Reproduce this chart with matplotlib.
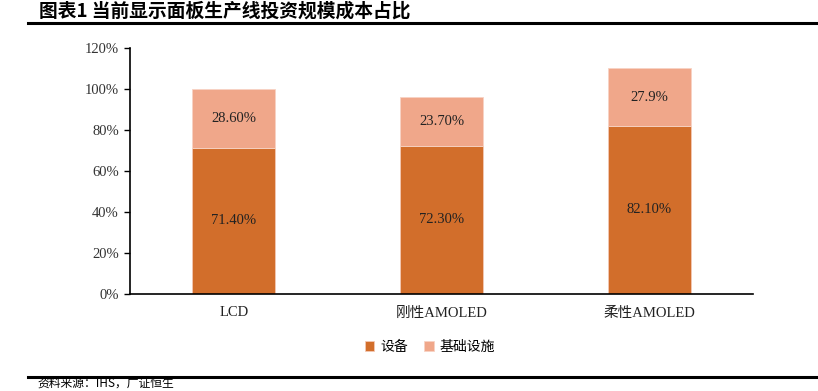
import matplotlib.pyplot as plt
from matplotlib.lines import Line2D

plt.rcParams['font.family'] = ['Liberation Serif', 'Noto Sans CJK SC']

categories = ["LCD", "刚性AMOLED", "柔性AMOLED"]
equipment = [71.4, 72.3, 82.1]
infra = [28.6, 23.7, 27.9]
equipment_labels = ["71.40%", "72.30%", "82.10%"]
infra_labels = ["28.60%", "23.70%", "27.9%"]
series_names = ["设备", "基础设施"]
yticks = [0, 20, 40, 60, 80, 100, 120]

c_dark = "#D26E2B"
c_light = "#F0A78A"

fig = plt.figure(figsize=(8.18, 3.91), dpi=100)
ax = fig.add_axes([130 / 818, 1 - 294 / 391, 623 / 818, 246 / 391])

x = list(range(len(categories)))
b1 = ax.bar(x, equipment, width=0.4, color=c_dark, edgecolor="#F3C9B5", linewidth=0.6,
            label=series_names[0])
b2 = ax.bar(x, infra, width=0.4, bottom=equipment, color=c_light, edgecolor="#F7D3C4",
            linewidth=0.6, label=series_names[1])

for i in x:
    ax.text(i, equipment[i] / 2, equipment_labels[i], ha="center", va="center",
            fontsize=10.5, color="#222222")
    ax.text(i, equipment[i] + infra[i] / 2, infra_labels[i], ha="center", va="center",
            fontsize=10.5, color="#222222")

ax.set_xlim(-0.5, 2.5)
ax.set_ylim(0, 120)
ax.set_yticks(yticks)
ax.set_yticklabels([f"{t}%" for t in yticks], fontsize=10.5, color="#333333")
ax.set_xticks(x)
ax.set_xticklabels(categories, fontsize=10.5, color="#222222")
ax.tick_params(axis="x", length=0, pad=9)
ax.tick_params(axis="y", direction="out", length=4, width=1, pad=4)
for s in ["top", "right"]:
    ax.spines[s].set_visible(False)
ax.spines["left"].set_linewidth(1.2)
ax.spines["bottom"].set_linewidth(1.2)

fig.legend(handles=[b1, b2], labels=series_names, loc="center",
           bbox_to_anchor=(430 / 818, 1 - 347 / 391), ncol=2, frameon=False,
           handlelength=0.7, handleheight=0.7, handletextpad=0.4, columnspacing=1.2,
           prop={"family": "Noto Sans CJK SC", "size": 10})

# title and rules
fig.text(39 / 818, 1 - 11 / 391, "图表1 当前显示面板生产线投资规模成本占比",
         fontsize=13.5, fontweight="bold", va="center", ha="left",
         family=["Noto Sans CJK SC", "DejaVu Sans"])
fig.add_artist(Line2D([28 / 818, 1], [1 - 23 / 391, 1 - 23 / 391], color="black", lw=2.2))
fig.add_artist(Line2D([28 / 818, 1], [1 - 377 / 391, 1 - 377 / 391], color="black", lw=2.2))
fig.text(37 / 818, 1 / 391, "资料来源：IHS，广证恒生", fontsize=8.5, va="bottom", ha="left",
         family=["Noto Sans CJK SC", "DejaVu Sans"])

fig.savefig("out.png", dpi=100)
